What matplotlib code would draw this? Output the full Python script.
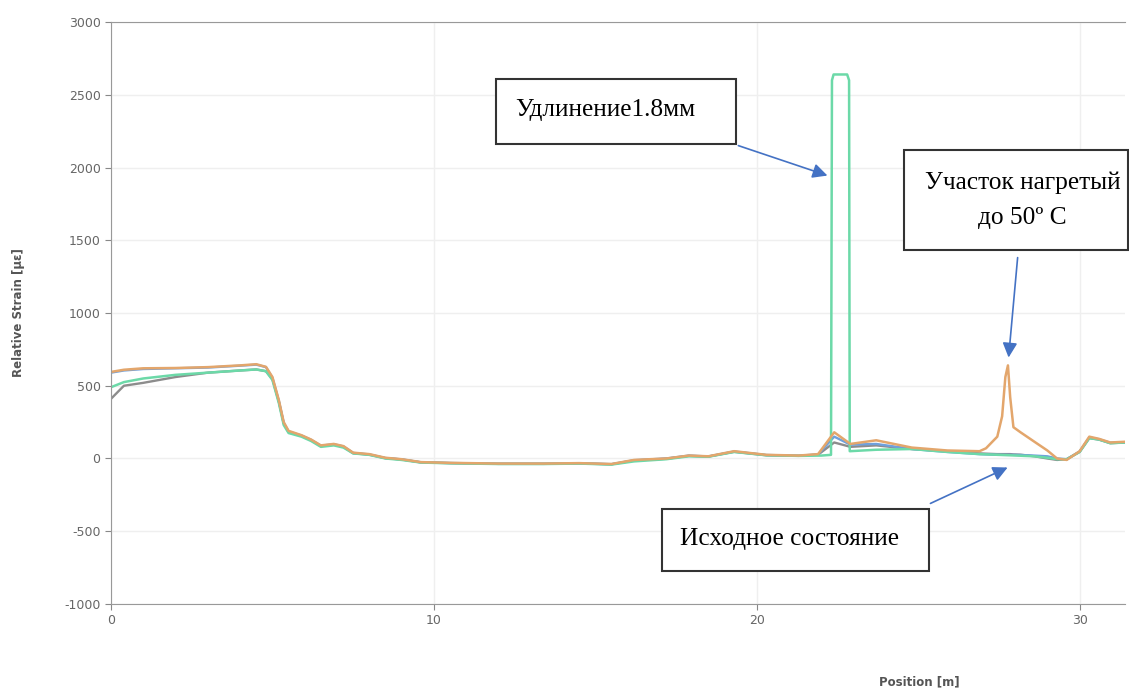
import matplotlib.pyplot as plt
from matplotlib.patches import Rectangle

plt.rcParams['axes.unicode_minus'] = False

# positions [m]
pos = [0, 0.4, 1, 2, 3, 4, 4.5, 4.8, 5.0, 5.2, 5.35, 5.5, 5.9, 6.2, 6.5, 6.9, 7.2, 7.5, 8, 8.5,
       9, 9.6, 10.5, 12, 13.4, 14.5, 15.5, 16.2, 17.2, 17.9, 18.5, 19.3, 20.3, 21.3, 21.9, 22.4,
       22.9, 23.7, 24.8, 25.9, 26.9, 27.1, 27.45, 27.6, 27.7, 27.78, 27.85, 27.95, 28.17, 28.6,
       29.0, 29.3, 29.6, 30.0, 30.3, 30.6, 30.95, 31.4]

# heated section (orange)
heated = [595, 610, 620, 622, 628, 640, 648, 630, 560, 400, 250, 190, 160, 130, 90, 100, 85, 40, 30, 5,
          -5, -25, -30, -35, -35, -32, -38, -10, 0, 20, 15, 50, 25, 20, 30, 180,
          100, 125, 75, 55, 50, 70, 150, 290, 560, 640, 420, 215, 180, 115,
          55, 0, -10, 50, 150, 135, 110, 115]

# initial state (blue)
initial = [590, 605, 615, 620, 625, 638, 645, 628, 555, 395, 245, 185, 158, 128, 88, 98, 83, 38, 28, 3,
           -6, -26, -31, -36, -36, -33, -39, -12, 0, 20, 14, 48, 24, 19, 28, 150,
           95, 100, 65, 45, 30, 28, 25, 25, 25, 25, 25, 25, 24, 20,
           15, 0, -5, 48, 145, 132, 108, 112]

# grey reading
grey = [410, 500, 520, 560, 590, 605, 612, 600, 545, 390, 240, 182, 155, 125, 85, 95, 80, 36, 26, 2,
        -7, -27, -32, -37, -37, -34, -40, -14, -2, 18, 13, 46, 22, 18, 26, 110,
        80, 90, 65, 50, 35, 33, 30, 30, 30, 30, 30, 28, 26, 15,
        0, -10, -5, 45, 140, 130, 105, 110]

# elongation 1.8 mm (green)
pos_green = [0, 0.4, 1, 2, 3, 4, 4.5, 4.8, 5.0, 5.2, 5.35, 5.5, 5.9, 6.2, 6.5, 6.9, 7.2, 7.5, 8, 8.5,
             9, 9.6, 10.5, 12, 13.4, 14.5, 15.5, 16.2, 17.2, 17.9, 18.5, 19.3, 20.3, 21.3, 22.0, 22.3,
             22.33, 22.38, 22.8, 22.86, 22.88, 23.7, 24.8, 25.9, 26.9, 27.5, 28.6,
             29.0, 29.3, 29.6, 30.0, 30.3, 30.6, 30.95, 31.4]
elong = [490, 525, 550, 575, 590, 605, 612, 600, 540, 380, 230, 175, 150, 120, 80, 90, 75, 35, 25, 0,
         -10, -28, -33, -38, -38, -35, -42, -20, -5, 15, 12, 45, 22, 18, 20, 25,
         2600, 2640, 2640, 2600, 50, 60, 65, 45, 30, 25, 15,
         5, -5, -5, 45, 140, 130, 105, 110]

xticks = [0, 10, 20, 30]
yticks = [-1000, -500, 0, 500, 1000, 1500, 2000, 2500, 3000]

fig = plt.figure(figsize=(11.29, 6.91), dpi=100)
ax = fig.add_axes([0.0983, 0.126, 0.898, 0.842])

ax.plot(pos, grey, color='#8c8c8c', lw=1.7)
ax.plot(pos, initial, color='#6fa0dc', lw=1.7)
ax.plot(pos_green, elong, color='#6cd9a8', lw=1.8)
ax.plot(pos, heated, color='#e3a66c', lw=1.8)

ax.set_xlim(0, 31.4)
ax.set_ylim(-1000, 3000)
ax.set_xticks(xticks)
ax.set_yticks(yticks)
ax.grid(True, color='#efefef', lw=1)
ax.set_axisbelow(True)
ax.tick_params(colors='#888888', labelcolor='#666666', labelsize=9, length=4)
for s in ['left', 'bottom', 'top']:
    ax.spines[s].set_color('#999999')
ax.spines['right'].set_visible(False)

fig.text(0.0168, 0.547, 'Relative Strain [µε]', rotation=90, ha='center', va='center',
         fontsize=8.5, fontweight='bold', color='#555555')
fig.text(0.814, 0.013, 'Position [m]', ha='center', va='center',
         fontsize=8.5, fontweight='bold', color='#555555')

# annotation boxes
serif = 'Liberation Serif'
boxes = [(11.93, 2165, 7.44, 447), (24.57, 1436, 6.93, 688), (17.07, -777, 8.25, 433)]
for bx, by, bw, bh in boxes:
    ax.add_patch(Rectangle((bx, by), bw, bh, facecolor='white', edgecolor='#333333',
                           lw=1.5, clip_on=False, zorder=5))

ax.text(12.52, 2357, 'Удлинение1.8мм', family=serif, fontsize=18.3, va='baseline', zorder=6)
ax.text(28.23, 1856, 'Участок нагретый', family=serif, fontsize=18.3, va='baseline', ha='center', zorder=6)
ax.text(28.23, 1615, 'до 50º C', family=serif, fontsize=18.3, va='baseline', ha='center', zorder=6)
ax.text(17.63, -598, 'Исходное состояние', family=serif, fontsize=18.3, va='baseline', zorder=6)

arrow = dict(arrowstyle='-|>', color='#4472c4', lw=1.2, mutation_scale=22, shrinkA=0, shrinkB=0)
ax.annotate('', xy=(22.19, 1945), xytext=(19.43, 2151), arrowprops=arrow, zorder=6)
ax.annotate('', xy=(27.80, 694), xytext=(28.08, 1381), arrowprops=arrow, zorder=6)
ax.annotate('', xy=(27.77, -62), xytext=(25.38, -309), arrowprops=arrow, zorder=6)

plt.savefig('out.png', dpi=100)
